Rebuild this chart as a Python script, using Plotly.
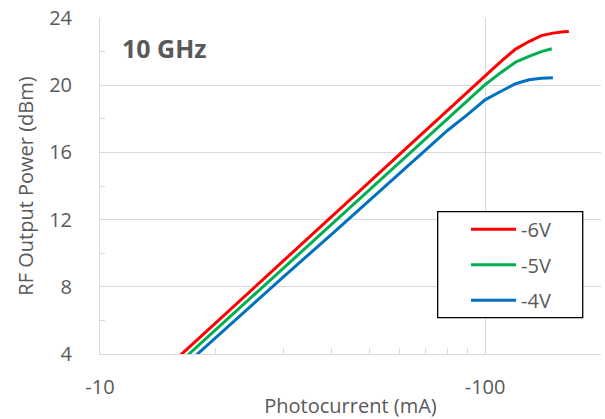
import plotly.graph_objects as go

# Photocurrent magnitude (mA) -- axis labels show negative sign as in reference
current_red = [15, 20, 25, 30, 40, 50, 60, 70, 80, 90, 100, 110, 120, 130, 140, 150, 160, 165]
power_red = [3.24, 5.86, 7.90, 9.56, 12.19, 14.22, 15.89, 17.29, 18.51, 19.58, 20.54,
             21.42, 22.15, 22.6, 22.95, 23.1, 23.18, 23.2]

current_green = [15, 20, 25, 30, 40, 50, 60, 70, 80, 90, 100, 110, 120, 130, 140, 149]
power_green = [2.85, 5.46, 7.48, 9.14, 11.75, 13.77, 15.43, 16.83, 18.04, 19.11, 20.03,
               20.76, 21.37, 21.72, 22.0, 22.17]

current_blue = [15, 20, 25, 30, 40, 50, 60, 70, 80, 90, 100, 110, 120, 130, 140, 150]
power_blue = [2.41, 5.00, 6.99, 8.61, 11.14, 13.13, 14.75, 16.13, 17.32, 18.25, 19.13,
              19.64, 20.09, 20.32, 20.41, 20.44]

series_names = ["-6V", "-5V", "-4V"]
series_colors = ["#FF0000", "#00B050", "#0070C0"]

x_tickvals = [10, 100]
x_ticktext = ["-10", "-100"]
x_minor_vals = [20, 30, 40, 50, 60, 70, 80, 90]
y_tickvals = [4, 8, 12, 16, 20, 24]
y_minor_vals = [6, 10, 14, 18, 22]

FONT = "Open Sans"
TXT = "#595959"

fig = go.Figure()
for xs, ys, name, col in zip([current_red, current_green, current_blue],
                             [power_red, power_green, power_blue],
                             series_names, series_colors):
    fig.add_trace(go.Scatter(x=xs, y=ys, mode="lines", name=name, legendgroup=name,
                             line=dict(color=col, width=3)))

fig.update_layout(
    width=605, height=419,
    margin=dict(l=100, r=4, t=18, b=65),
    paper_bgcolor="white", plot_bgcolor="white",
    font=dict(family=FONT, color=TXT, size=19),
    showlegend=True,
    legend=dict(x=0.7306, y=0.4295, xanchor="left", yanchor="top",
                borderwidth=0, bgcolor="rgba(0,0,0,0)",
                font=dict(size=20, color=TXT), tracegroupgap=6.5,
                itemwidth=45),
    shapes=[dict(type="rect", xref="paper", yref="paper",
                 x0=0.674, x1=0.9635, y0=0.108, y1=0.4235,
                 line=dict(color="black", width=1.3), fillcolor="white", layer="above")],
    annotations=[dict(text="<b>10 GHz</b>", xref="paper", yref="paper",
                      x=0.04, y=0.912, xanchor="left", yanchor="middle",
                      showarrow=False, font=dict(size=25, color=TXT, family=FONT))],
)

fig.update_xaxes(
    type="log", range=[1, 2.30103], automargin=False,
    tickvals=x_tickvals, ticktext=x_ticktext, ticks="",
    showgrid=True, gridcolor="#D9D9D9", gridwidth=1,
    showline=True, linecolor="#D9D9D9", linewidth=1,
    tickfont=dict(size=20, color=TXT), ticklabelstandoff=15,
    minor=dict(tickvals=x_minor_vals, ticks="inside", ticklen=6,
               tickcolor="#D9D9D9", showgrid=False),
    title=dict(text="Photocurrent (mA)", font=dict(size=20, color=TXT), standoff=2),
    zeroline=False,
)
fig.update_yaxes(
    range=[4, 24], tickvals=y_tickvals, ticks="", automargin=False,
    showgrid=True, gridcolor="#D9D9D9", gridwidth=1,
    showline=True, linecolor="#D9D9D9", linewidth=1,
    tickfont=dict(size=20, color=TXT), ticklabelstandoff=23,
    minor=dict(tickvals=y_minor_vals, ticks="inside", ticklen=5,
               tickcolor="#D9D9D9", showgrid=False),
    title=dict(text="RF Output Power (dBm)", font=dict(size=20, color=TXT), standoff=10),
    zeroline=False,
)

fig.write_html("out.html", config={"displayModeBar": False},
               post_script="document.body.style.margin='0px';")
